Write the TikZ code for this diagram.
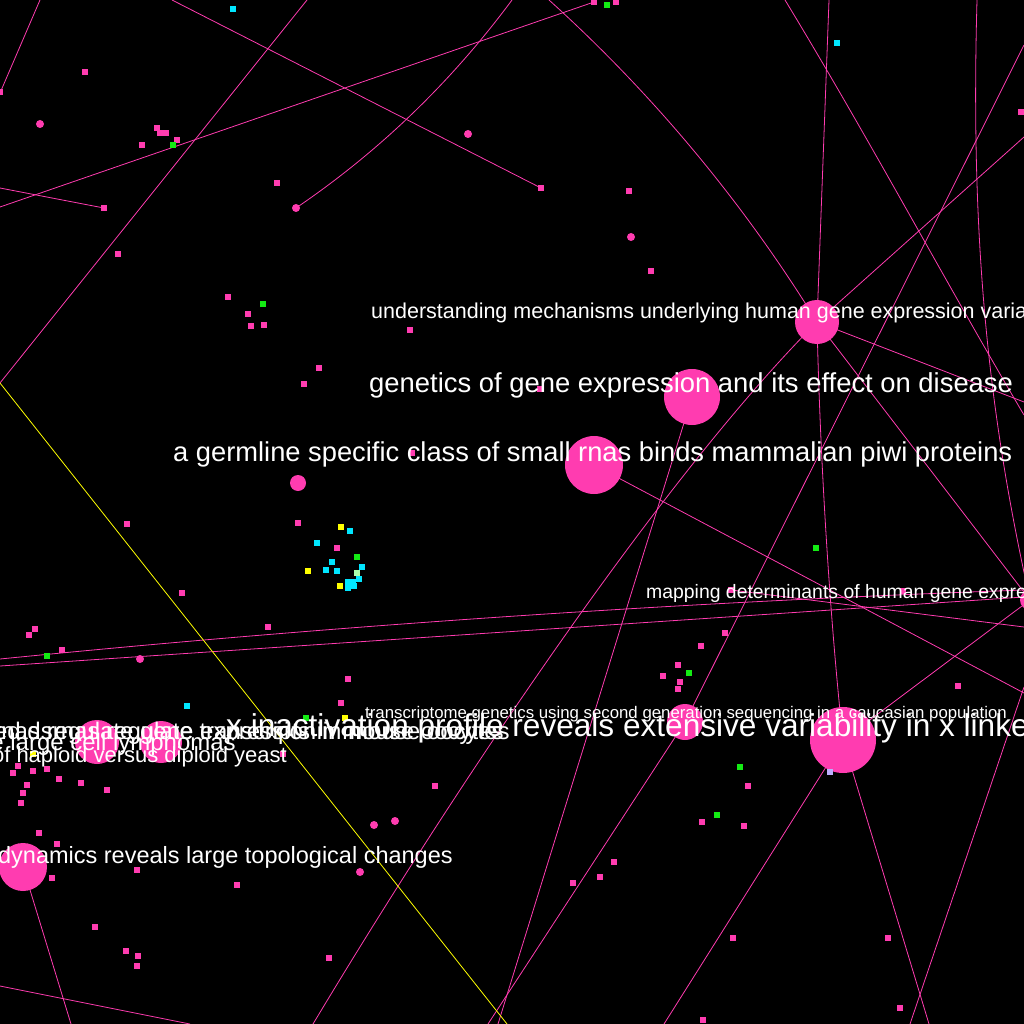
\documentclass[tikz,border=0pt]{standalone}
\usepackage{fontspec}
\setmainfont{Liberation Sans}
\definecolor{pk}{RGB}{255,60,176}
\definecolor{gn}{RGB}{20,235,20}
\definecolor{cy}{RGB}{0,230,255}
\definecolor{yl}{RGB}{255,255,0}
\definecolor{lg}{RGB}{170,255,170}
\definecolor{lv}{RGB}{190,175,255}
\begin{document}
\begin{tikzpicture}[x=1pt,y=-1pt,
  edge/.style={draw=pk,line width=0.8pt},
  yedge/.style={draw=yl,line width=0.8pt},
  bn/.style={circle,fill=pk,inner sep=0pt},
  sq/.style={rectangle,fill=pk,inner sep=0pt,minimum size=6pt},
  sqg/.style={sq,fill=gn},
  sqc/.style={sq,fill=cy},
  sqy/.style={sq,fill=yl},
  lbl/.style={text=white,inner sep=0pt}]
\fill[black] (0,0) rectangle (1024,1024);
\useasboundingbox (0,0) rectangle (1024,1024);
\clip (0,0) rectangle (1024,1024);

% ---- coordinates ----
\coordinate (u) at (817,322);
\coordinate (e) at (692,397);
\coordinate (g) at (594,465);
\coordinate (b) at (843,740);
\coordinate (x2) at (685,722);
\coordinate (r) at (1030,600);
\coordinate (d) at (23,867);
\coordinate (t1) at (296,208);
\coordinate (a1) at (0,93);   \coordinate (a2) at (40,0);
\coordinate (a3) at (172,0);  \coordinate (a4) at (541,188);
\coordinate (a5) at (307,0);  \coordinate (a6) at (0,383);
\coordinate (a7) at (0,207);  \coordinate (a8) at (594,2);
\coordinate (a9) at (0,188);  \coordinate (a10) at (104,208);
\coordinate (a12) at (512,0);
\coordinate (a13) at (549,0);
\coordinate (a14) at (829,0);
\coordinate (a15) at (785,0);  \coordinate (a16) at (1024,415);
\coordinate (a17) at (1024,45);
\coordinate (a18) at (488,1024);
\coordinate (a19) at (1024,137);
\coordinate (a20) at (977,0);
\coordinate (a21) at (1024,402);
\coordinate (a22) at (313,1024);
\coordinate (a23) at (1024,693);
\coordinate (a24) at (664,1024);
\coordinate (a25) at (929,1024);
\coordinate (a26) at (1024,687);  \coordinate (a27) at (910,1024);
\coordinate (a28) at (498,1024);
\coordinate (a29) at (0,659);  \coordinate (a30) at (1024,590);
\coordinate (a31) at (0,666);  \coordinate (a32) at (1024,597);
\coordinate (a33) at (731,590); \coordinate (a34) at (1024,627);
\coordinate (a35) at (0,986);  \coordinate (a36) at (190,1024);
\coordinate (a37) at (71,1024);
\coordinate (a38) at (507,1024);

% ---- connectors ----
\draw[edge] (a1) -- (a2);
\draw[edge] (a3) -- (a4);
\draw[edge] (a5) -- (a6);
\draw[edge] (a7) -- (a8);
\draw[edge] (a9) -- (a10);
\draw[edge] (t1) .. controls (380,151) and (452,81) .. (a12);
\draw[edge] (a13) .. controls (653,94) and (743,202) .. (u);
\draw[edge] (a14) -- (u);
\draw[edge] (a15) .. controls (870,140) and (950,290) .. (a16);
\draw[edge] (a17) -- (x2);
\draw[edge] (x2) -- (a18);
\draw[edge] (a19) -- (u);
\draw[edge] (a20) .. controls (970,250) and (990,420) .. (r);
\draw[edge] (u) -- (a21);
\draw[edge] (u) -- (r);
\draw[edge] (u) .. controls (667,472) and (463,774) .. (a22);
\draw[edge] (u) .. controls (820,460) and (830,620) .. (b);
\draw[edge] (g) -- (a23);
\draw[edge] (r) -- (b);
\draw[edge] (b) -- (a24);
\draw[edge] (b) -- (a25);
\draw[edge] (a26) -- (a27);
\draw[edge] (e) -- (a28);
\draw[edge] (a29) .. controls (341,625) and (683,602) .. (a30);
\draw[edge] (a31) -- (a32);
\draw[edge] (a33) -- (a34);
\draw[edge] (a35) -- (a36);
\draw[edge] (d) -- (a37);
\draw[yedge] (a6) -- (a38);

% ---- big nodes ----
\node[bn,minimum size=44pt] (U) at (u) {};
\node[bn,minimum size=56pt] (E) at (e) {};
\node[bn,minimum size=58pt] (G) at (g) {};
\node[bn,minimum size=66pt] (B) at (b) {};
\node[bn,minimum size=36pt] (X2) at (x2) {};
\node[bn,minimum size=20pt] (R) at (r) {};
\node[bn,minimum size=48pt] (D) at (d) {};
\node[bn,minimum size=44pt] (L1) at (97,742) {};
\node[bn,minimum size=42pt] (L2) at (161,742) {};
\node[bn,minimum size=16pt] (S1) at (298,483) {};
\node[bn,minimum size=8pt] (T1) at (t1) {};
\foreach [count=\i] \p in {(40,124),(468,134),(631,237),(140,659),(395,821),(360,872),(374,825)}
  \node[bn,minimum size=8pt] (c\i) at \p {};

% ---- small squares ----
\foreach [count=\i] \p in {(85,72),(157,128),(160,133),(166,133),(177,140),(142,145),(277,183),(104,208),
  (118,254),(228,297),(248,314),(251,326),(264,325),(410,330),(319,368),(304,384),(0,92),(594,2),(616,2),
  (1021,112),(541,188),(629,191),(651,271),(412,453),(540,389),(127,524),(182,593),(35,629),(29,635),
  (62,650),(268,627),(348,679),(341,703),(298,523),(337,548),(18,766),(13,773),(33,771),(47,769),(59,779),
  (81,783),(107,790),(27,785),(23,793),(21,803),(39,833),(57,844),(52,878),(137,870),(237,885),(95,927),
  (126,951),(138,956),(137,966),(329,958),(435,786),(283,754),(725,633),(701,646),(678,665),(663,676),
  (680,682),(678,689),(958,686),(748,786),(702,822),(744,826),(614,862),(600,877),(573,883),(733,938),
  (888,938),(900,1008),(703,1020),(731,590),(903,591)}
  \node[sq] (p\i) at \p {};
\foreach [count=\i] \p in {(173,145),(263,304),(607,5),(47,656),(306,718),(357,557),(689,673),(740,767),(717,815),(816,548)}
  \node[sqg] (q\i) at \p {};
\foreach [count=\i] \p in {(233,9),(837,43),(187,706),(350,531),(317,543),(332,562),(326,570),(337,571),
  (362,567),(359,579),(348,582),(353,582),(354,586),(348,588)}
  \node[sqc] (k\i) at \p {};
\foreach [count=\i] \p in {(341,527),(308,571),(340,586),(345,718),(33,754)}
  \node[sqy] (w\i) at \p {};
\node[sq,fill=lg] (lg1) at (357,573) {};
\node[sq,fill=lv] (lv1) at (830,772) {};

% ---- labels ----
\node[lbl,anchor=base west,font=\fontsize{21.5}{24}\selectfont] (t-und) at (371,318)
  {understanding mechanisms underlying human gene expression variation with rna sequencing};
\node[lbl,anchor=base west,font=\fontsize{27.4}{30}\selectfont] (t-gen) at (369,392)
  {genetics of gene expression and its effect on disease};
\node[lbl,anchor=base west,font=\fontsize{27.3}{30}\selectfont] (t-piwi) at (173,461)
  {a germline specific class of small rnas binds mammalian piwi proteins};
\node[lbl,anchor=base west,font=\fontsize{19.4}{22}\selectfont] (t-map) at (646,598)
  {mapping determinants of human gene expression by regional and genome-wide association};
\node[lbl,anchor=base west,font=\fontsize{16.8}{19}\selectfont] (t-tra) at (365,718)
  {transcriptome genetics using second generation sequencing in a caucasian population};
\node[lbl,anchor=base west,font=\fontsize{31.6}{34}\selectfont] (t-xin) at (226,736)
  {x inactivation profile reveals extensive variability in x linked gene expression in females};
\node[lbl,anchor=base east,font=\fontsize{24}{26}\selectfont] (t-pse) at (510,739)
  {pseudogene derived small interfering rnas regulate gene expression in mouse oocytes};
\node[lbl,anchor=base east,font=\fontsize{24}{26}\selectfont] (t-end) at (504,739)
  {endogenous sirnas from naturally formed dsrnas regulate transcripts in mouse oocytes};
\node[lbl,anchor=base east,font=\fontsize{24}{26}\selectfont] (t-lym) at (236,750)
  {diffuse large cell lymphomas};
\node[lbl,anchor=base east,font=\fontsize{22}{24}\selectfont] (t-yea) at (287,762)
  {of haploid versus diploid yeast};
\node[lbl,anchor=base east,font=\fontsize{23.5}{26}\selectfont] (t-dyn) at (453,863)
  {genomic analysis of regulatory network dynamics reveals large topological changes};
\end{tikzpicture}
\end{document}
